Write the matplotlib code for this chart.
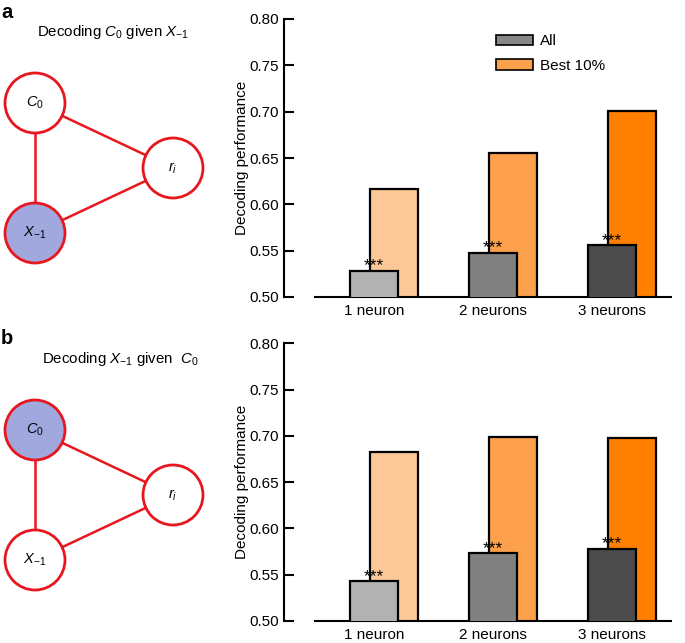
import matplotlib
matplotlib.use("Agg")
import matplotlib.pyplot as plt
from matplotlib.patches import Circle, Patch
import numpy as np

plt.rcParams['font.family'] = ['Liberation Sans', 'DejaVu Sans']
plt.rcParams['mathtext.fontset'] = 'custom'
plt.rcParams['mathtext.rm'] = 'Liberation Sans'
plt.rcParams['mathtext.it'] = 'Liberation Sans:italic'

# ---- data ----
categories = ["1 neuron", "2 neurons", "3 neurons"]
all_a = [0.528, 0.548, 0.556]
best_a = [0.617, 0.655, 0.701]
all_b = [0.543, 0.573, 0.578]
best_b = [0.683, 0.699, 0.698]
yticks = [0.50, 0.55, 0.60, 0.65, 0.70, 0.75, 0.80]
sig_label = "***"

gray_cols = ["#b2b2b2", "#808080", "#4b4b4b"]
orange_cols = ["#fdc898", "#fda04c", "#ff7f00"]
red = "#e8161f"
blue = "#a0a8de"

W, H = 685, 643
fig = plt.figure(figsize=(W / 100, H / 100), dpi=100)

def px_axes(left, right, top, bottom):
    return fig.add_axes([left / W, 1 - bottom / H, (right - left) / W, (bottom - top) / H])

def bar_panel(ax, all_vals, best_vals, legend=False):
    x = np.arange(len(categories))
    w = 0.403
    off = 0.168
    ax.bar(x + off, best_vals, width=w, color=orange_cols, edgecolor="black",
           linewidth=1.6, zorder=2)
    ax.bar(x, all_vals, width=w, color=gray_cols, edgecolor="black",
           linewidth=1.6, zorder=3)
    for xi, v in zip(x, all_vals):
        ax.text(xi, v + 0.0005, sig_label, ha="center", va="baseline", fontsize=12.5, zorder=4)
    ax.set_xlim(-0.496, 2.496)
    ax.set_ylim(0.5, 0.8)
    ax.set_yticks(yticks)
    ax.set_yticklabels([f"{t:.2f}" for t in yticks])
    ax.set_xticks(x)
    ax.set_xticklabels(categories)
    ax.tick_params(axis="both", direction="in", labelsize=11, width=1.5)
    ax.tick_params(axis="y", length=7, pad=4)
    ax.tick_params(axis="x", length=6, pad=5)
    for s in ["top", "right"]:
        ax.spines[s].set_visible(False)
    ax.spines["left"].set_position(("outward", 22))
    ax.spines["left"].set_linewidth(1.5)
    ax.spines["bottom"].set_linewidth(1.5)
    ax.set_ylabel("Decoding performance", fontsize=11, labelpad=0)
    ax.patch.set_alpha(0)
    if legend:
        handles = [Patch(facecolor="#888888", edgecolor="black", linewidth=1.2, label="All"),
                   Patch(facecolor="#fda24c", edgecolor="black", linewidth=1.2, label="Best 10%")]
        ax.legend(handles=handles, loc="upper left", bbox_to_anchor=(0.47, 0.995),
                  frameon=False, fontsize=11, handlelength=2.4, handleheight=0.65,
                  labelspacing=0.7, handletextpad=0.5)

axa = px_axes(315, 671, 19, 297)
bar_panel(axa, all_a, best_a, legend=True)
axb = px_axes(315, 671, 343.3, 621)
bar_panel(axb, all_b, best_b)

# ---- network diagrams ----
dax = fig.add_axes([0, 0, 1, 1])
dax.set_xlim(0, W)
dax.set_ylim(H, 0)
dax.axis("off")
dax.patch.set_alpha(0)

def network(y0, shaded, title, title_x, label):
    c0 = (35, y0 + 103)
    ri = (173, y0 + 168)
    xm = (35, y0 + 233)
    r = 30
    for p, q in [(c0, xm), (c0, ri), (xm, ri)]:
        dax.plot([p[0], q[0]], [p[1], q[1]], color=red, lw=1.8, zorder=1)
    for pos, txt, key in [(c0, "$C_0$", "C"), (ri, "$r_i$", "r"), (xm, "$X_{-1}$", "X")]:
        fc = blue if key == shaded else "white"
        dax.add_patch(Circle(pos, r, facecolor=fc, edgecolor=red, lw=2.0, zorder=2))
        dax.text(pos[0], pos[1], txt, ha="center", va="center", fontsize=10.5, zorder=3)
    dax.text(1, y0 + 12, label, fontsize=14.5, fontweight="bold", ha="left", va="center")
    dax.text(title_x, y0 + 32, title, fontsize=10.8, ha="center", va="center")

network(0, "X", r"Decoding $C_0$ given $X_{-1}$", 113, "a")
network(327, "C", r"Decoding $X_{-1}$ given  $C_0$", 120, "b")

fig.savefig("out.png", dpi=100)
